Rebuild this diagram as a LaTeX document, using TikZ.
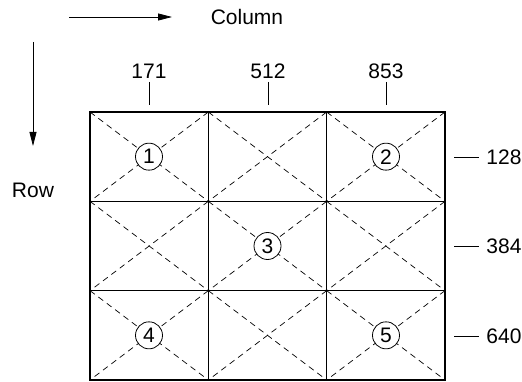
\documentclass[tikz,border=0pt]{standalone}
\usepackage{fontspec}
\setmainfont{Liberation Sans}
\usetikzlibrary{positioning, arrows.meta}

\tikzset{
  lbl/.style={font=\fontsize{21}{24}\selectfont, inner sep=0pt},
  numcirc/.style={circle, draw, fill=white, minimum size=27pt, inner sep=0pt,
                  font=\fontsize{21}{24}\selectfont},
  diag/.style={dashed, dash pattern=on 6pt off 4.5pt, line width=0.7pt},
  dirarrow/.style={-{Triangle[length=14pt, width=7pt]}, line width=0.8pt}
}

\begin{document}
\begin{tikzpicture}[x=1pt, y=-1pt, line width=0.8pt]
  \useasboundingbox (0,0) rectangle (522,382);

  % direction arrows
  \node [lbl] (column) at (247,17) {Column};
  \node [lbl] (row) at (33,190) {Row};
  \coordinate (colstart) at (69,17);
  \coordinate (colend) at (172,17);
  \coordinate (rowstart) at (33,42);
  \coordinate (rowend) at (33,146);
  \draw [dirarrow] (colstart) -- (colend);
  \draw [dirarrow] (rowstart) -- (rowend);

  % dashed diagonals of the cells
  \foreach \i in {0,1,2}
    \foreach \j in {0,1,2} {
      \draw [diag] (90+\i*118.33, 112+\j*89.33) -- ++(118.33, 89.33);
      \draw [diag] (208.33+\i*118.33, 112+\j*89.33) -- ++(-118.33, 89.33);
    }

  % grid
  \draw (208.33,112) -- (208.33,380);
  \draw (326.67,112) -- (326.67,380);
  \draw (90,201.33) -- (445,201.33);
  \draw (90,290.67) -- (445,290.67);
  \draw [line width=2.2pt] (90,112) rectangle (445,380);

  % column labels
  \foreach \x/\v in {149/171, 268/512, 386/853} {
    \node [lbl] (col\v) at (\x,71) {\v};
    \draw (\x,82) -- (\x,105);
  }

  % row labels
  \foreach \y/\v in {157/128, 246/384, 336/640} {
    \node [lbl, anchor=west] (row\v) at (486,\y) {\v};
    \draw (454,\y) -- (479,\y);
  }

  % numbered points
  \node [numcirc] (p1) at (149,156.67) {1};
  \node [numcirc] (p2) at (386,156.67) {2};
  \node [numcirc] (p3) at (267.5,246) {3};
  \node [numcirc] (p4) at (149,335.33) {4};
  \node [numcirc] (p5) at (386,335.33) {5};
\end{tikzpicture}
\end{document}
